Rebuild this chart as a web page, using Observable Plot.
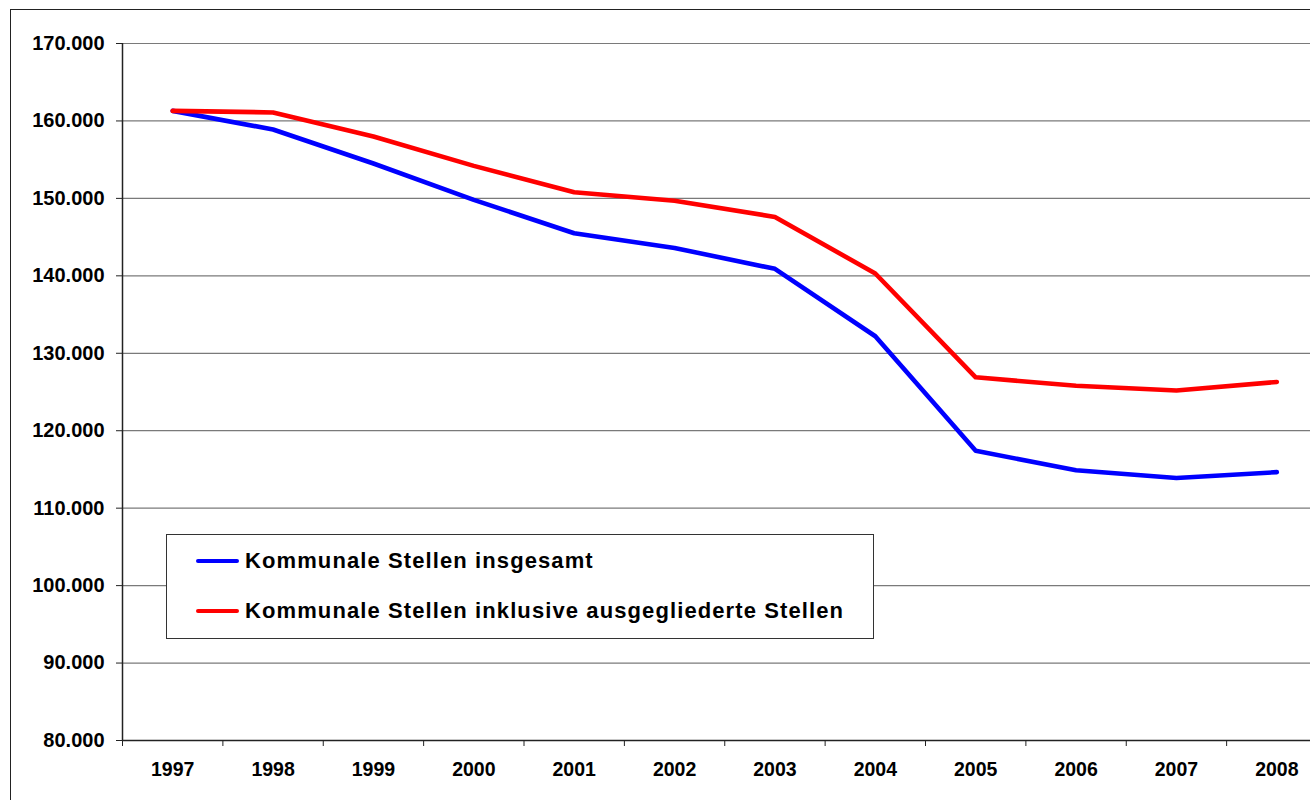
<!DOCTYPE html>
<html>
<head>
<meta charset="utf-8">
<script src="https://cdn.jsdelivr.net/npm/d3@7"></script>
<script src="https://cdn.jsdelivr.net/npm/@observablehq/plot@0.6"></script>
<style>
  html, body { margin: 0; padding: 0; background: #fff; overflow: hidden; }
  #wrap { position: relative; width: 1310px; height: 800px; overflow: hidden; font-family: "Liberation Sans", Arial, sans-serif; }
  #chart { position: absolute; left: 0; top: 0; }
  #border { position: absolute; left: 10px; top: 9px; width: 2000px; height: 2000px; border-left: 1.5px solid #222; border-top: 1.5px solid #222; pointer-events: none; }
  #legend { position: absolute; left: 166px; top: 534px; width: 706px; height: 103px; border: 1px solid #333; background: #fff; }
  .entry { position: absolute; left: 29px; height: 26px; line-height: 26px; display: flex; align-items: center; font-weight: bold; font-size: 22px; letter-spacing: 1.1px; color: #000; white-space: nowrap; }
  .sw { width: 43px; height: 4.5px; border-radius: 2px; margin-right: 6px; }
</style>
</head>
<body>
<div id="wrap">
  <div id="chart"></div>
  <div id="border"></div>
  <div id="legend"></div>
</div>
<script>
const years = [1997, 1998, 1999, 2000, 2001, 2002, 2003, 2004, 2005, 2006, 2007, 2008];
const insgesamt = [161300, 158900, 154500, 149800, 145500, 143600, 140900, 132200, 117400, 114900, 113900, 114650];
const inklusive = [161300, 161100, 158000, 154200, 150800, 149700, 147600, 140300, 126900, 125800, 125200, 126300];
const seriesNames = ["Kommunale Stellen insgesamt", "Kommunale Stellen inklusive ausgegliederte Stellen"];
const seriesColors = ["#0000ff", "#ff0000"];
const yTicks = [80000, 90000, 100000, 110000, 120000, 130000, 140000, 150000, 160000, 170000];

const data = [];
years.forEach((y, i) => {
  data.push({year: y, value: insgesamt[i], series: seriesNames[0]});
  data.push({year: y, value: inklusive[i], series: seriesNames[1]});
});

const xDomain = [years[0] - 0.5, years[years.length - 1] + 0.5];
const boundaries = d3.range(xDomain[0], xDomain[1] + 0.01, 1);
const fmt = d => d3.format(",")(d).replace(/,/g, ".");

const chart = Plot.plot({
  width: 1310,
  height: 800,
  marginLeft: 122,
  marginRight: 0,
  marginTop: 43,
  marginBottom: 60,
  style: {background: "transparent", fontFamily: "Liberation Sans, Arial, sans-serif", color: "#000"},
  x: {domain: xDomain, range: [122, 1326.5]},
  y: {domain: [yTicks[0], yTicks[yTicks.length - 1]]},
  color: {domain: seriesNames, range: seriesColors},
  marks: [
    Plot.gridY(yTicks, {stroke: "#7a7a7a", strokeOpacity: 1, strokeWidth: 1.2}),
    Plot.ruleY([yTicks[0]], {stroke: "#222", strokeWidth: 1.5}),
    Plot.ruleX([xDomain[0]], {stroke: "#222", strokeWidth: 1.5}),
    Plot.axisY({ticks: yTicks, tickFormat: fmt, tickSize: 6, tickPadding: 12, fontSize: 20, fontWeight: "bold", stroke: "#222", label: null}),
    Plot.axisX({ticks: boundaries, tickFormat: () => "", tickSize: 6, stroke: "#222", label: null}),
    Plot.axisX({ticks: years, tickFormat: d => String(d), tickSize: 0, tickPadding: 22, fontSize: 19.5, fontWeight: "bold", label: null}),
    Plot.line(data, {x: "year", y: "value", z: "series", stroke: "series", strokeWidth: 4.6, strokeLinecap: "round", strokeLinejoin: "round"})
  ]
});
document.getElementById("chart").appendChild(chart);

const legend = document.getElementById("legend");
seriesNames.forEach((name, i) => {
  const e = document.createElement("div");
  e.className = "entry";
  e.style.top = (i === 0 ? 13 : 63) + "px";
  e.innerHTML = `<div class="sw" style="background:${seriesColors[i]}"></div><span>${name}</span>`;
  legend.appendChild(e);
});
</script>
</body>
</html>
